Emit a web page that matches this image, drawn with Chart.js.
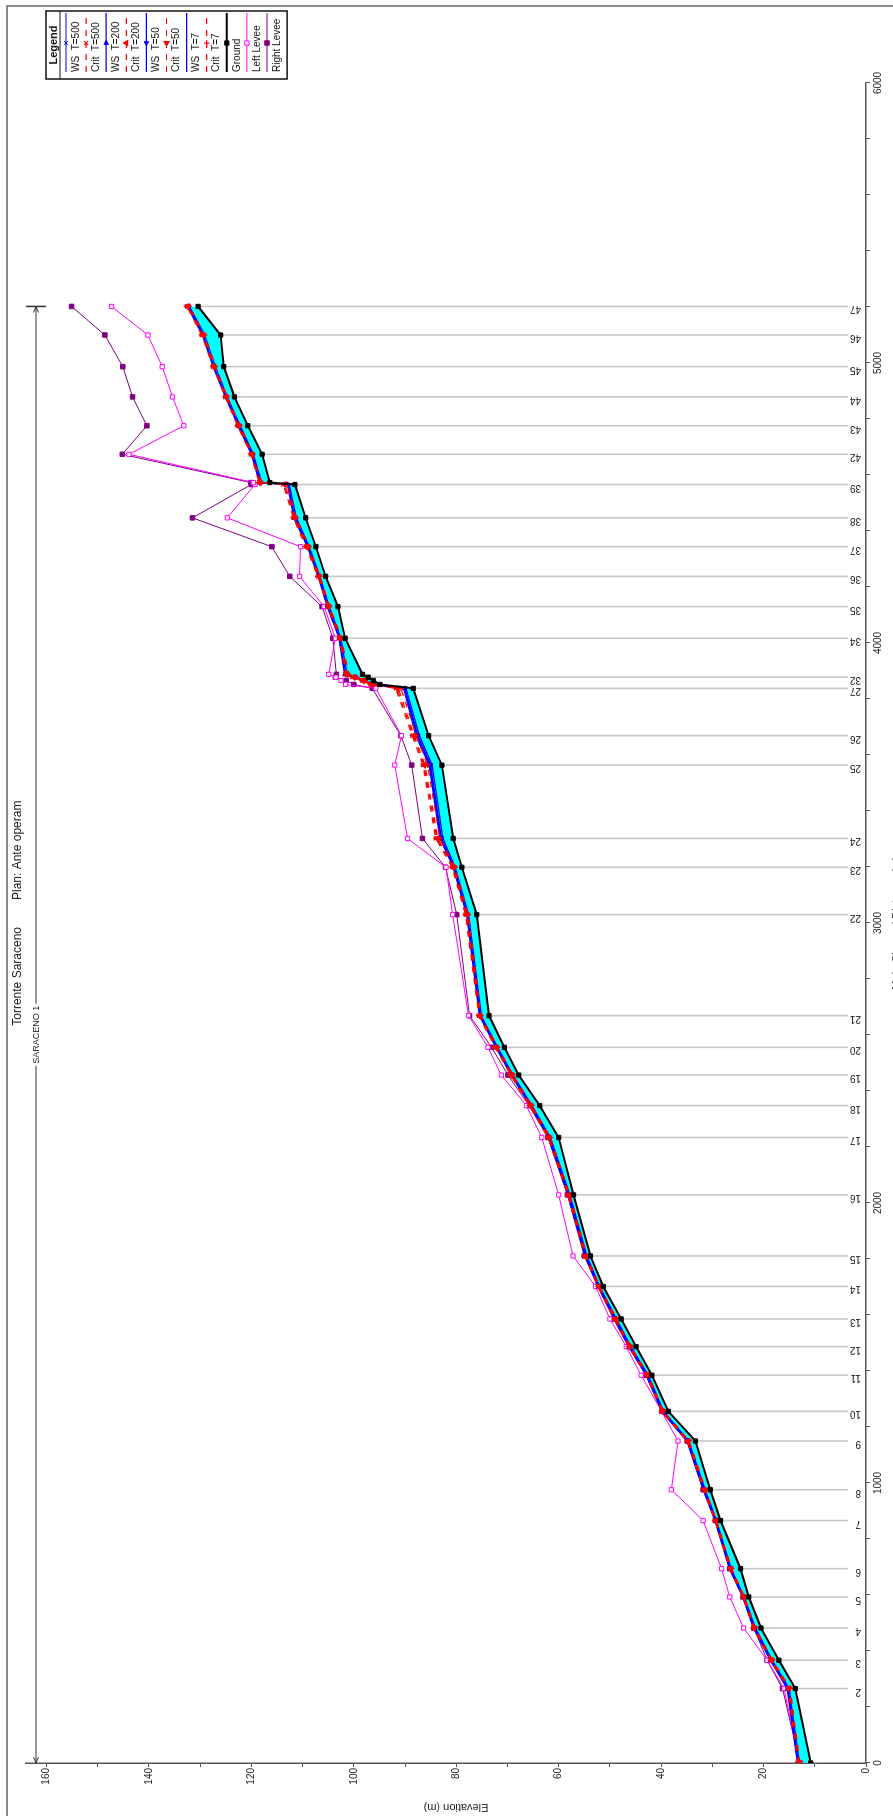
<!DOCTYPE html>
<html>
<head>
<meta charset="utf-8">
<title>Torrente Saraceno - Plan: Ante operam</title>
<script src="https://cdn.jsdelivr.net/npm/chart.js@4.4.0/dist/chart.umd.min.js"></script>
<style>
    html, body { margin: 0; padding: 0; width: 893px; height: 1816px; overflow: hidden; background: #fff; }
    /* the profile is drawn landscape and turned a quarter turn, as in the printed page */
    #wrap { position: absolute; left: 0; top: 0; width: 1816px; height: 905px;
            transform-origin: 0 0; transform: translate(0, 1816px) rotate(-90deg); }
    #profileChart { display: block; }
</style>
</head>
<body>
<div id="wrap"><canvas id="profileChart" width="1816" height="905"></canvas></div>
<script>
(function() {
    'use strict';

    // ===================================
    // Data
    // ===================================
    const stations = ['', '2', '3', '4', '5', '6', '7', '8', '9', '10', '11', '12', '13', '14', '15', '16', '17', '18', '19', '20',
        '21', '22', '23', '24', '25', '26', '27', '', '', '32', '', '34', '35', '36', '37', '38', '39', '', '42', '43', '44', '45', '46', '47'];
    const distance = [0, 266, 367, 482, 593, 694, 866, 976, 1150, 1256, 1385, 1487, 1586, 1702, 1811, 2029, 2234, 2348, 2457, 2556,
        2669, 3030, 3199, 3302, 3564, 3669, 3838, 3852, 3866, 3878, 3888, 4017, 4130, 4238, 4344, 4447, 4566, 4573, 4674, 4776, 4879, 4987, 5100, 5202];

    const ground = [10.8, 13.8, 17.0, 20.5, 22.9, 24.5, 28.4, 30.4, 33.3, 38.6, 41.8, 44.9, 47.8, 51.3, 53.8, 57.1, 60.0, 63.7, 67.8, 70.6,
        73.6, 76.0, 78.9, 80.6, 82.8, 85.4, 88.4, 94.9, 96.2, 97.2, 98.3, 101.7, 103.1, 105.5, 107.4, 109.4, 111.5, 116.4, 117.9, 120.7, 123.3, 125.4, 126.0, 130.4];

    const wsT500 = [13.4, 15.4, 18.7, 22.0, 24.1, 26.7, 29.5, 31.8, 35.0, 39.9, 42.9, 46.3, 49.1, 52.3, 54.9, 58.2, 62.0, 65.6, 69.3, 72.3,
        75.5, 78.0, 80.6, 83.2, 85.3, 87.9, 90.3, 96.5, 98.2, 100.0, 101.8, 102.9, 105.2, 107.0, 109.1, 111.7, 113.0, 118.4, 120.0, 122.6, 125.1, 127.5, 129.6, 132.5];
    const wsT200 = [13.3, 15.3, 18.6, 21.9, 24.0, 26.6, 29.4, 31.7, 34.9, 39.8, 42.8, 46.2, 49.0, 52.2, 54.8, 58.1, 61.9, 65.5, 69.2, 72.2,
        75.4, 77.9, 80.5, 83.0, 85.1, 87.7, 90.1, 96.4, 98.1, 99.9, 101.7, 102.8, 105.1, 106.9, 109.0, 111.6, 112.9, 118.3, 119.9, 122.5, 125.0, 127.4, 129.5, 132.4];
    const wsT50 = [13.2, 15.2, 18.5, 21.8, 23.9, 26.5, 29.3, 31.6, 34.8, 39.7, 42.7, 46.1, 48.9, 52.1, 54.7, 58.0, 61.8, 65.4, 69.1, 72.1,
        75.3, 77.8, 80.4, 82.9, 85.0, 87.5, 90.0, 96.2, 98.0, 99.7, 101.6, 102.7, 105.0, 106.8, 108.9, 111.5, 112.8, 118.2, 119.8, 122.4, 124.9, 127.3, 129.4, 132.3];
    const wsT7 = [13.0, 15.0, 18.3, 21.6, 23.8, 26.3, 29.2, 31.4, 34.6, 39.5, 42.5, 45.9, 48.7, 52.0, 54.5, 57.8, 61.6, 65.2, 68.9, 71.9,
        75.1, 77.6, 80.2, 82.6, 84.7, 87.2, 89.8, 95.9, 97.7, 99.4, 101.3, 102.5, 104.8, 106.6, 108.7, 111.2, 112.6, 118.0, 119.6, 122.2, 124.7, 127.0, 129.1, 132.1];

    const critT500 = [13.3, 15.2, 18.6, 22.0, 24.0, 26.6, 29.5, 31.7, 34.9, 39.9, 42.9, 46.3, 49.1, 52.3, 54.9, 58.2, 62.1, 65.7, 69.4, 72.4,
        75.6, 78.2, 80.8, 84.0, 86.5, 88.6, 91.8, 96.8, 98.4, 100.3, 101.6, 102.8, 105.1, 107.0, 109.4, 111.8, 113.8, 118.5, 120.1, 122.7, 125.1, 127.5, 129.7, 132.6];
    const critT200 = [13.2, 15.1, 18.5, 21.9, 23.9, 26.5, 29.4, 31.6, 34.8, 39.8, 42.8, 46.2, 49.0, 52.2, 54.8, 58.1, 62.0, 65.6, 69.3, 72.3,
        75.5, 78.1, 80.7, 83.8, 86.3, 88.4, 91.6, 96.6, 98.3, 100.1, 101.5, 102.7, 105.0, 106.9, 109.2, 111.7, 113.6, 118.4, 120.0, 122.6, 125.0, 127.4, 129.6, 132.5];
    const critT50 = [13.1, 15.0, 18.4, 21.8, 23.8, 26.4, 29.3, 31.5, 34.7, 39.7, 42.7, 46.1, 48.9, 52.1, 54.7, 58.0, 61.9, 65.5, 69.2, 72.2,
        75.4, 77.9, 80.5, 83.6, 86.1, 88.2, 91.3, 96.4, 98.1, 99.9, 101.3, 102.6, 104.9, 106.8, 109.0, 111.5, 113.4, 118.3, 119.9, 122.5, 124.9, 127.3, 129.4, 132.4];
    const critT7 = [12.9, 14.8, 18.2, 21.6, 23.7, 26.2, 29.2, 31.3, 34.5, 39.5, 42.5, 45.9, 48.7, 52.0, 54.5, 57.8, 61.6, 65.2, 68.9, 71.9,
        75.2, 77.6, 80.2, 83.2, 85.6, 87.8, 90.8, 96.0, 97.8, 99.5, 101.0, 102.4, 104.7, 106.6, 108.7, 111.2, 113.0, 118.1, 119.7, 122.2, 124.7, 127.0, 129.1, 132.1];

    const leftLevee = [13.0, 16.0, 19.3, 23.9, 26.6, 28.2, 31.8, 38.0, 36.7, 39.9, 43.9, 46.8, 50.0, 52.8, 57.2, 60.0, 63.3, 66.3, 71.2, 73.8,
        77.6, 80.7, 82.0, 89.5, 92.0, 90.7, 95.7, 101.6, 102.5, 103.5, 104.9, 103.6, 105.8, 110.6, 110.4, 124.7, 119.3, 119.6, 143.9, 133.2, 135.4, 137.4, 140.2, 147.3];
    const rightLevee = [12.9, 16.3, 19.3, 21.9, 24.0, 26.6, 29.4, 31.8, 34.9, 39.8, 43.0, 46.4, 49.3, 52.4, 55.0, 58.3, 62.1, 65.8, 69.9, 73.1,
        77.4, 79.9, 82.1, 86.6, 88.7, 90.8, 96.4, 100.0, 101.5, 103.6, 103.4, 104.1, 106.2, 112.5, 116.0, 131.5, 120.0, 120.1, 145.2, 140.4, 143.2, 145.1, 148.6, 155.1];

    const titleRiver = 'Torrente Saraceno';
    const titlePlan = 'Plan: Ante operam';
    const reachName = 'SARACENO 1';
    const xTitle = 'Main Channel Distance (m)';
    const yTitle = 'Elevation (m)';

    const FONT = '"Liberation Sans", Arial, Helvetica, sans-serif';
    const BLUE = '#0000ff';
    const RED = '#ff0000';

    function pts(values) {
        return distance.map((d, i) => ({ x: d, y: values[i] }));
    }

    function wsSet(label, values, style, rotation) {
        return {
            label: label, data: pts(values), borderColor: BLUE, backgroundColor: BLUE,
            borderWidth: 1.2, pointStyle: style || 'circle', pointRadius: style ? 2.6 : 0,
            pointRotation: rotation || 0, pointBorderWidth: 1, order: 20
        };
    }

    function critSet(label, values, style, rotation) {
        return {
            label: label, data: pts(values), borderColor: RED, backgroundColor: RED,
            borderWidth: 1.2, borderDash: [6, 6], pointStyle: style, pointRadius: 2.8,
            pointRotation: rotation || 0, pointBorderWidth: 1.2, order: 18
        };
    }

    // ===================================
    // Drawing helpers (title, stations, legend...)
    // ===================================
    const profilePlugin = {
        id: 'profileDecor',
        beforeDraw(chart) {
            const ctx = chart.ctx;
            ctx.save();
            ctx.fillStyle = '#fff';
            ctx.fillRect(0, 0, chart.width, chart.height);
            // page frame: only top and right edges show on the sheet
            ctx.strokeStyle = '#666';
            ctx.lineWidth = 1.5;
            ctx.strokeRect(-20, 7, chart.width - 6 + 20, chart.height + 60);
            ctx.restore();
        },
        beforeDatasetsDraw(chart) {
            const ctx = chart.ctx;
            const xs = chart.scales.x, ys = chart.scales.y;
            ctx.save();
            ctx.strokeStyle = '#c6c6c6';
            ctx.lineWidth = 1.6;
            stations.forEach((name, i) => {
                if (!name) return;
                const px = xs.getPixelForValue(distance[i]);
                ctx.beginPath();
                ctx.moveTo(px, ys.bottom - 18);
                ctx.lineTo(px, ys.getPixelForValue(ground[i]));
                ctx.stroke();
            });
            ctx.restore();
        },
        afterDraw(chart) {
            const ctx = chart.ctx;
            const xs = chart.scales.x, ys = chart.scales.y;
            const area = chart.chartArea;
            ctx.save();

            // station names along the bottom
            ctx.fillStyle = '#222';
            ctx.font = '10px ' + FONT;
            ctx.textAlign = 'left';
            ctx.textBaseline = 'alphabetic';
            stations.forEach((name, i) => {
                if (!name) return;
                ctx.save();
                ctx.translate(xs.getPixelForValue(distance[i]), ys.bottom - 5);
                ctx.rotate(-Math.PI / 2);
                ctx.fillText(name, 0, 0);
                ctx.restore();
            });

            // title
            const cx = chart.width / 2;
            ctx.font = '12px ' + FONT;
            ctx.textBaseline = 'middle';
            ctx.textAlign = 'right';
            ctx.fillText(titleRiver, cx - 19, 18);
            ctx.textAlign = 'left';
            ctx.fillText(titlePlan, cx + 8, 18);

            // reach line
            const ry = area.top + 10;
            const x0 = xs.getPixelForValue(distance[0]);
            const x1 = xs.getPixelForValue(distance[distance.length - 1]);
            const mid = (x0 + x1) / 2;
            ctx.font = '9px ' + FONT;
            const tw = ctx.measureText(reachName).width;
            ctx.strokeStyle = '#333';
            ctx.lineWidth = 1;
            ctx.beginPath();
            ctx.moveTo(x0, ry); ctx.lineTo(mid - tw / 2 - 2, ry);
            ctx.moveTo(mid + tw / 2 + 2, ry); ctx.lineTo(x1, ry);
            ctx.moveTo(x0 + 6, ry - 2.5); ctx.lineTo(x0, ry); ctx.lineTo(x0 + 6, ry + 2.5);
            ctx.moveTo(x1 - 6, ry - 2.5); ctx.lineTo(x1, ry); ctx.lineTo(x1 - 6, ry + 2.5);
            ctx.stroke();
            ctx.lineWidth = 1.5;
            ctx.beginPath();
            ctx.moveTo(x1, ry - 10); ctx.lineTo(x1, ry + 10);
            ctx.stroke();
            ctx.fillStyle = '#222';
            ctx.textAlign = 'center';
            ctx.fillText(reachName, mid, ry + 0.5);

            // axis titles
            ctx.font = '11px ' + FONT;
            ctx.save();
            ctx.translate(9, (area.top + area.bottom) / 2 + 10);
            ctx.rotate(-Math.PI / 2);
            ctx.textAlign = 'center';
            ctx.textBaseline = 'middle';
            ctx.fillText(yTitle, 0, 0);
            ctx.restore();
            ctx.textAlign = 'center';
            ctx.textBaseline = 'top';
            ctx.fillText(xTitle, (area.left + area.right) / 2, area.bottom + 25.5);

            drawLegend(chart);
            ctx.restore();
        }
    };

    function drawLegend(chart) {
        const ctx = chart.ctx;
        const area = chart.chartArea;
        const bx = area.right + 4, by = area.top + 20, bw = 68, rowH = 20.1;
        const items = chart.data.datasets.filter(ds => ds.label);
        const bh = 20 + rowH * items.length;

        ctx.save();
        ctx.fillStyle = '#fff';
        ctx.fillRect(bx, by, bw, bh);
        ctx.strokeStyle = '#111';
        ctx.lineWidth = 1.5;
        ctx.strokeRect(bx, by, bw, bh);
        ctx.lineWidth = 1;
        ctx.beginPath();
        ctx.moveTo(bx, by + 14); ctx.lineTo(bx + bw, by + 14);
        ctx.stroke();

        ctx.fillStyle = '#111';
        ctx.font = 'bold 11px ' + FONT;
        ctx.textAlign = 'center';
        ctx.textBaseline = 'middle';
        ctx.fillText('Legend', bx + bw / 2, by + 7.5);

        ctx.font = '10px ' + FONT;
        ctx.textAlign = 'left';
        items.forEach((ds, i) => {
            const ly = by + 20 + rowH * i;
            ctx.save();
            ctx.strokeStyle = ds.borderColor;
            ctx.lineWidth = ds.borderWidth;
            ctx.setLineDash(ds.borderDash || []);
            ctx.beginPath();
            ctx.moveTo(bx + 7, ly); ctx.lineTo(bx + 66, ly);
            ctx.stroke();
            ctx.setLineDash([]);
            if (ds.pointRadius > 0 && Chart.helpers && Chart.helpers.drawPoint) {
                ctx.fillStyle = ds.pointBackgroundColor || ds.backgroundColor;
                ctx.strokeStyle = ds.pointBorderColor || ds.borderColor;
                ctx.lineWidth = ds.pointBorderWidth || 1;
                Chart.helpers.drawPoint(ctx, {
                    pointStyle: ds.pointStyle, rotation: ds.pointRotation || 0,
                    radius: ds.pointRadius, borderWidth: ds.pointBorderWidth || 1
                }, bx + 36, ly);
            }
            ctx.restore();
            ctx.fillStyle = '#111';
            ctx.fillText(ds.label, bx + 7, ly + 10);
        });
        ctx.restore();
    }

    // ===================================
    // Chart
    // ===================================
    const canvas = document.getElementById('profileChart');

    new Chart(canvas, {
        type: 'line',
        data: {
            datasets: [
                {
                    // water between ground (dataset 9) and the highest profile
                    label: '', data: pts(wsT500), fill: 9, backgroundColor: '#00ffff',
                    borderWidth: 0, pointRadius: 0, order: 100
                },
                wsSet('WS  T=500', wsT500, 'crossRot', 0),
                critSet('Crit  T=500', critT500, 'crossRot', 0),
                wsSet('WS  T=200', wsT200, 'triangle', 90),
                critSet('Crit  T=200', critT200, 'triangle', 0),
                wsSet('WS  T=50', wsT50, 'triangle', 270),
                critSet('Crit  T=50', critT50, 'triangle', 270),
                wsSet('WS  T=7', wsT7, null, 0),
                critSet('Crit  T=7', critT7, 'cross', 0),
                {
                    label: 'Ground', data: pts(ground), borderColor: '#000000', backgroundColor: '#000000',
                    borderWidth: 2, pointStyle: 'rect', pointRadius: 3, pointBorderWidth: 1, order: 5
                },
                {
                    label: 'Left Levee', data: pts(leftLevee), borderColor: '#ff00ff', backgroundColor: '#ff00ff',
                    pointBackgroundColor: '#ffffff', borderWidth: 1, pointStyle: 'rect', pointRadius: 3,
                    pointBorderWidth: 1, order: 40
                },
                {
                    label: 'Right Levee', data: pts(rightLevee), borderColor: '#800080', backgroundColor: '#800080',
                    borderWidth: 1, pointStyle: 'rect', pointRadius: 3.2, pointBorderWidth: 1, order: 40
                }
            ]
        },
        options: {
            responsive: false,
            animation: false,
            events: [],
            devicePixelRatio: 1,
            layout: { padding: { left: 0, top: 26, right: 83, bottom: 0 } },
            elements: { line: { tension: 0 } },
            plugins: {
                legend: { display: false },
                tooltip: { enabled: false },
                title: { display: false }
            },
            scales: {
                x: {
                    type: 'linear',
                    min: 0,
                    max: 6000,
                    afterFit: function(scale) { scale.height = 39; },
                    border: { display: true, color: '#555', width: 1.5 },
                    grid: { drawOnChartArea: false, drawTicks: true, tickLength: 4, color: '#555' },
                    ticks: {
                        stepSize: 200,
                        autoSkip: false,
                        maxRotation: 0,
                        minRotation: 0,
                        padding: 2,
                        color: '#222',
                        font: { family: FONT, size: 10 },
                        callback: function(value) {
                            return value % 1000 === 0 ? String(value) : '';
                        }
                    }
                },
                y: {
                    type: 'linear',
                    min: 0,
                    max: 164,
                    afterFit: function(scale) { scale.width = 53; },
                    afterBuildTicks: function(scale) {
                        scale.ticks = scale.ticks.filter(t => t.value % 10 === 0);
                    },
                    border: { display: true, color: '#555', width: 1.5 },
                    grid: { drawOnChartArea: false, drawTicks: true, tickLength: 4, color: '#555' },
                    ticks: {
                        stepSize: 10,
                        autoSkip: false,
                        padding: 1,
                        color: '#222',
                        font: { family: FONT, size: 10 },
                        callback: function(value) {
                            return value % 20 === 0 ? String(value) : '';
                        }
                    }
                }
            }
        },
        plugins: [profilePlugin]
    });
})();
</script>
</body>
</html>
